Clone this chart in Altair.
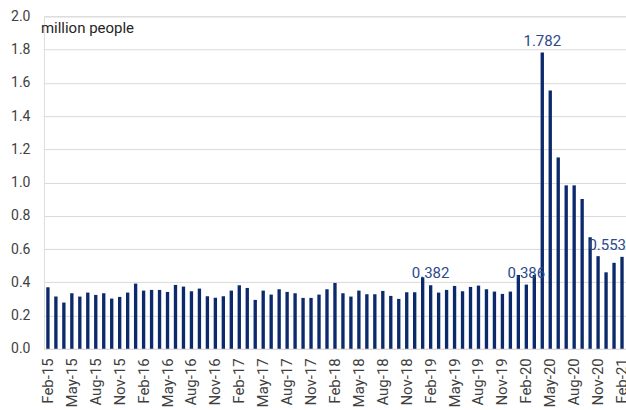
import altair as alt
import pandas as pd

# Monthly values, Feb-2015 .. Feb-2021 (million people)
values = [
    0.370, 0.314, 0.278, 0.334, 0.314, 0.338, 0.324, 0.334, 0.302, 0.312, 0.338,   # Feb-15 .. Dec-15
    0.392, 0.350, 0.354, 0.354, 0.342, 0.384, 0.374, 0.346, 0.362, 0.316, 0.307, 0.316,  # Jan-16 .. Dec-16
    0.350, 0.382, 0.366, 0.294, 0.350, 0.326, 0.358, 0.342, 0.334, 0.306, 0.306, 0.326,  # Jan-17 .. Dec-17
    0.358, 0.396, 0.334, 0.314, 0.350, 0.328, 0.328, 0.348, 0.318, 0.300, 0.340, 0.340,  # Jan-18 .. Dec-18
    0.430, 0.382, 0.338, 0.354, 0.378, 0.346, 0.372, 0.380, 0.358, 0.344, 0.330, 0.344,  # Jan-19 .. Dec-19
    0.444, 0.386, 0.444, 1.782, 1.554, 1.151, 0.983, 0.983, 0.901, 0.671, 0.557, 0.460,  # Jan-20 .. Dec-20
    0.517, 0.553,                                                                       # Jan-21 .. Feb-21
]

month_names = ["Jan", "Feb", "Mar", "Apr", "May", "Jun",
               "Jul", "Aug", "Sep", "Oct", "Nov", "Dec"]
months = []
y, m = 2015, 1  # zero-based month index: 1 = Feb
for _ in values:
    months.append(f"{month_names[m]}-{y % 100:02d}")
    m += 1
    if m == 12:
        m, y = 0, y + 1

tick_labels = months[::3]
y_ticks = [0, 0.2, 0.4, 0.6, 0.8, 1.0, 1.2, 1.4, 1.6, 1.8, 2.0]
annotated = ["Feb-19", "Feb-20", "Apr-20"]

df = pd.DataFrame({"month": months, "value": values})
df["label"] = df["value"].map(lambda v: f"{v:.3f}")

navy = "#0c2a6b"
label_blue = "#2b4a8c"
text_grey = "#404040"

# Shared encodings so the layered axes merge cleanly
x_enc = alt.X(
    "month:N",
    sort=months,
    scale=alt.Scale(paddingInner=0.58, paddingOuter=0.29),
    axis=alt.Axis(
        title=None, values=tick_labels, labelAngle=-90, labelFontSize=15,
        labelColor=text_grey, labelFont="Roboto", ticks=False, domain=False,
        labelPadding=9, grid=False, labelOverlap=False, labelBound=False,
    ),
)
y_enc = alt.Y(
    "value:Q",
    scale=alt.Scale(domain=[0, 2.0], nice=False),
    axis=alt.Axis(
        title=None, values=y_ticks, format=".1f", labelFontSize=14,
        labelColor=text_grey, labelFont="Roboto", ticks=False, domain=False,
        labelPadding=14, gridColor="#d9d9d9", gridWidth=1,
        labelOverlap=False, labelBound=False, labelFlush=False,
    ),
)

bars = alt.Chart(df).mark_bar(color=navy).encode(x=x_enc, y=y_enc)

base_labels = alt.Chart(df).transform_filter(
    alt.FieldOneOfPredicate(field="month", oneOf=annotated)
).mark_text(
    font="Roboto", fontSize=15, color=label_blue, baseline="bottom", dy=-4
).encode(x=x_enc, y=y_enc, text="label:N")

last_label = alt.Chart(df).transform_filter(
    alt.datum.month == months[-1]
).mark_text(
    font="Roboto", fontSize=15, color=label_blue, baseline="bottom",
    align="right", dx=4, dy=-4
).encode(x=x_enc, y=y_enc, text="label:N")

unit_note = alt.Chart(pd.DataFrame({"t": ["million people"]})).mark_text(
    font="Roboto", fontSize=15, color="#262626", align="left", baseline="middle"
).encode(x=alt.value(-3), y=alt.value(12), text="t:N")

chart = alt.layer(bars, base_labels, last_label, unit_note).properties(
    width=583, height=333,
    autosize=alt.AutoSizeParams(type="none"),
    padding={"left": 44, "top": 16, "right": 0, "bottom": 61},
).configure_view(stroke=None).configure(background="white")

chart.save("out.html", embed_options={"renderer": "svg", "actions": False})
